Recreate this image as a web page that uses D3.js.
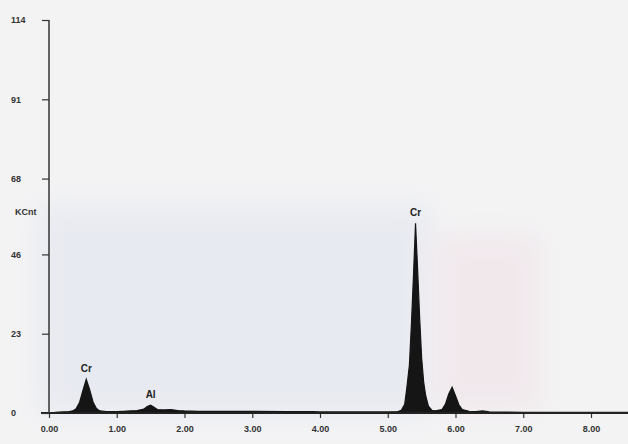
<!DOCTYPE html>
<html>
<head>
<meta charset="utf-8">
<script src="https://cdn.jsdelivr.net/npm/d3@7"></script>
<style>
  body { margin: 0; background: #f3f3f4; }
  svg { display: block; }
  .tick-lbl { font-family: "Liberation Sans", Arial, sans-serif; font-weight: bold; font-size: 9px; fill: #333; }
  .peak-lbl { font-family: "Liberation Sans", Arial, sans-serif; font-weight: bold; font-size: 10px; fill: #222; }
</style>
</head>
<body>
<div id="chart"></div>
<script>
// spectrum: energy (keV) and counts (KCnt)
var energy = [0.00, 0.10, 0.20, 0.30, 0.35, 0.40, 0.45, 0.50, 0.55, 0.60, 0.65, 0.70, 0.75, 0.85,
    1.00, 1.10, 1.20, 1.30, 1.40, 1.45, 1.50, 1.55, 1.60, 1.70, 1.80, 1.90, 2.00, 2.20, 2.50,
    3.00, 3.50, 3.90, 4.00, 4.50, 5.00, 5.15, 5.20, 5.25, 5.28, 5.32, 5.35, 5.38, 5.41, 5.44,
    5.47, 5.50, 5.53, 5.56, 5.60, 5.65, 5.70, 5.80, 5.85, 5.90, 5.95, 6.00, 6.05, 6.10, 6.20,
    6.30, 6.40, 6.50, 7.00, 8.00, 8.60];
var counts = [0.0, 0.2, 0.3, 0.4, 0.6, 1.2, 3.0, 6.5, 9.8, 6.8, 3.2, 1.3, 0.6, 0.4,
    0.4, 0.5, 0.6, 0.7, 1.1, 1.9, 2.3, 1.7, 1.0, 0.9, 1.0, 0.7, 0.6, 0.5, 0.5,
    0.5, 0.4, 0.4, 0.3, 0.3, 0.3, 0.4, 0.8, 2.5, 7.0, 14.0, 26.0, 40.0, 55.0, 42.0,
    28.0, 16.0, 9.0, 5.0, 2.0, 0.8, 0.6, 1.0, 2.5, 5.5, 7.5, 5.0, 2.4, 1.0, 0.5,
    0.4, 0.6, 0.3, 0.2, 0.2, 0.2];

var yTicks = [0, 23, 46, 68, 91, 114];
var xTicks = [0, 1, 2, 3, 4, 5, 6, 7, 8];

var peakNames = ['Cr', 'Al', 'Cr'];
var peakEnergy = [0.55, 1.50, 5.41];
var peakCounts = [9.8, 2.3, 55.0];

var config = {
    width: 628,
    height: 444,
    marginLeft: 49,
    marginTop: 20,
    plotRight: 591,   // pixel position of 8.00 keV
    baseY: 413
};

var svg = d3.select('#chart').append('svg')
    .attr('width', config.width)
    .attr('height', config.height);

// soft tint of the scanned page
var blur = svg.append('defs').append('filter')
    .attr('id', 'soft')
    .attr('x', '-20%').attr('y', '-20%')
    .attr('width', '140%').attr('height', '140%');
blur.append('feGaussianBlur').attr('stdDeviation', 14);

svg.append('rect')
    .attr('x', 0).attr('y', 0)
    .attr('width', config.width).attr('height', config.height)
    .style('fill', '#f3f3f4');
svg.append('rect')
    .attr('x', 40).attr('y', 205)
    .attr('width', 390).attr('height', 210)
    .style('fill', '#e8eaf1')
    .attr('filter', 'url(#soft)');
svg.append('rect')
    .attr('x', 435).attr('y', 235)
    .attr('width', 105).attr('height', 175)
    .style('fill', '#f1e8ec')
    .attr('filter', 'url(#soft)');

var x = d3.scaleLinear().domain([0, 8]).range([config.marginLeft, config.plotRight]);
var y = d3.scaleLinear().domain([0, 114]).range([config.baseY, config.marginTop]);

var data = energy.map(function(e, i) { return { e: e, c: counts[i] }; });

var area = d3.area()
    .x(function(d) { return x(d.e); })
    .y0(y(0))
    .y1(function(d) { return y(d.c); });

var line = d3.line()
    .x(function(d) { return x(d.e); })
    .y(function(d) { return y(d.c); });

svg.append('path')
    .datum(data)
    .attr('d', area)
    .style('fill', '#151515');

svg.append('path')
    .datum(data)
    .attr('d', line)
    .style('fill', 'none')
    .style('stroke', '#151515')
    .style('stroke-width', 1.2);

// x axis
var xAxis = d3.axisBottom(x)
    .tickValues(xTicks)
    .tickSize(5)
    .tickFormat(d3.format('.2f'));

var gx = svg.append('g')
    .attr('transform', 'translate(0,' + config.baseY + ')')
    .call(xAxis);
gx.select('.domain').remove();
gx.append('line')
    .attr('x1', x(0) - 8).attr('x2', config.width)
    .attr('y1', 0).attr('y2', 0)
    .style('stroke', '#222').style('stroke-width', 1.8);
gx.selectAll('.tick line').style('stroke', '#333').style('stroke-width', 1.2);
gx.selectAll('.tick text')
    .attr('class', 'tick-lbl')
    .attr('y', 13);

// y axis
var yAxis = d3.axisLeft(y)
    .tickValues(yTicks)
    .tickSize(7)
    .tickFormat(d3.format('d'));

var gy = svg.append('g')
    .attr('transform', 'translate(' + config.marginLeft + ',0)')
    .call(yAxis);
gy.select('.domain').remove();
gy.append('line')
    .attr('x1', 0).attr('x2', 0)
    .attr('y1', y(114)).attr('y2', y(0))
    .style('stroke', '#333').style('stroke-width', 1.5);
gy.selectAll('.tick line').style('stroke', '#333').style('stroke-width', 1.2);
gy.selectAll('.tick text')
    .attr('class', 'tick-lbl')
    .attr('text-anchor', 'start')
    .attr('x', 11 - config.marginLeft);

svg.append('text')
    .attr('class', 'tick-lbl')
    .attr('x', 15)
    .attr('y', 215)
    .text('KCnt');

// peak labels
svg.selectAll('.peak')
    .data(peakNames)
    .enter().append('text')
    .attr('class', 'peak-lbl')
    .attr('text-anchor', 'middle')
    .attr('x', function(d, i) { return x(peakEnergy[i]); })
    .attr('y', function(d, i) { return y(peakCounts[i]) - 7; })
    .text(function(d) { return d; });
</script>
</body>
</html>
